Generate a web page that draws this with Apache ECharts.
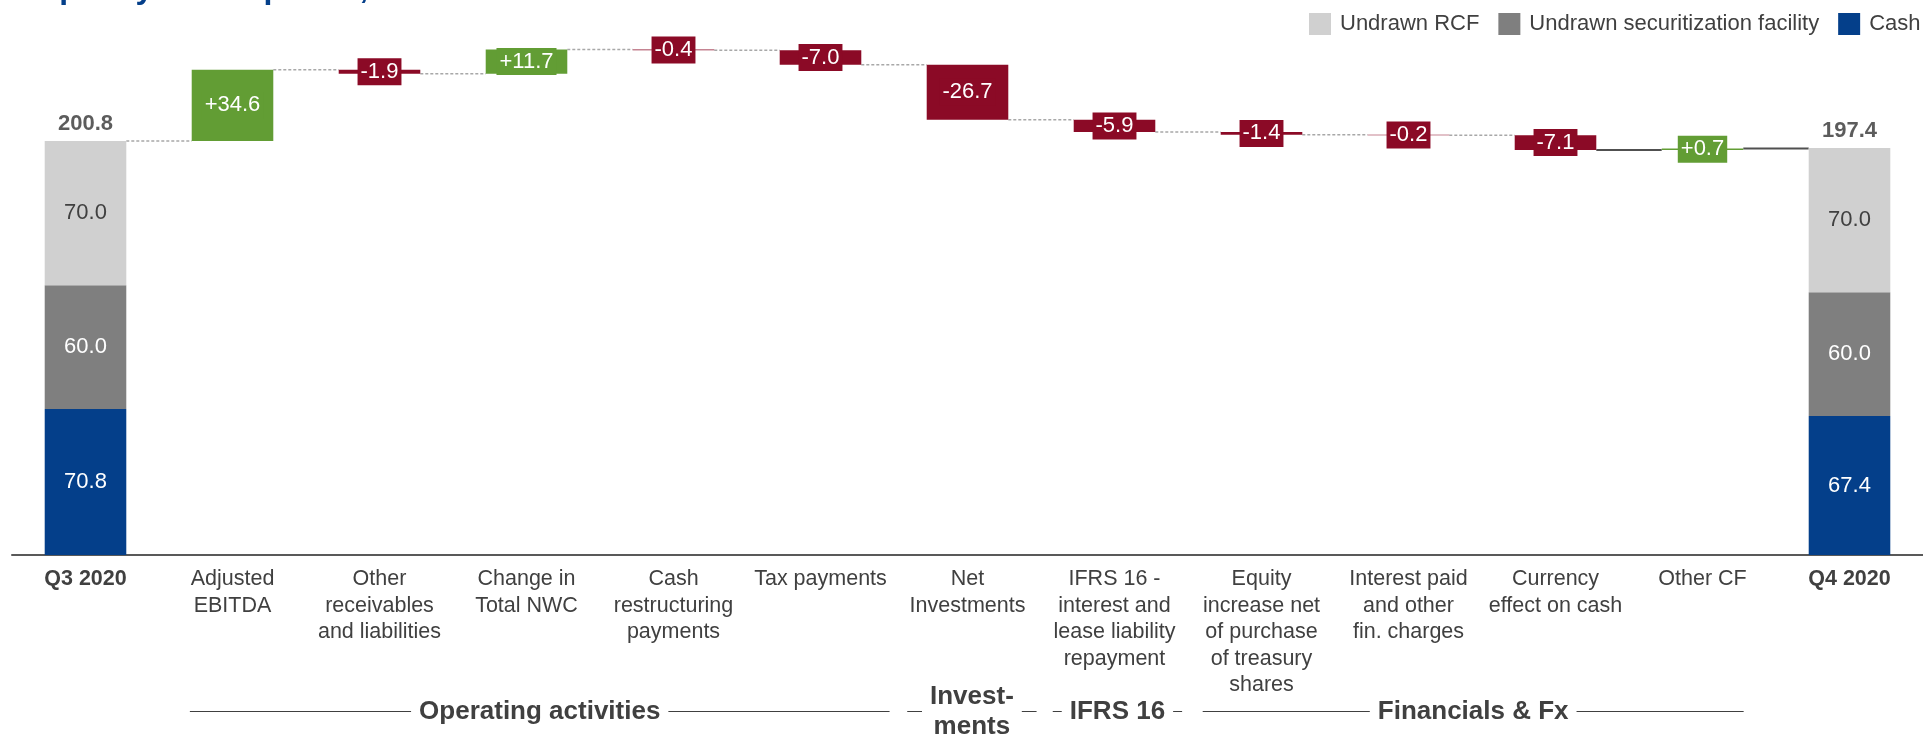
<!DOCTYPE html>
<html>
<head>
<meta charset="utf-8">
<script src="https://cdn.jsdelivr.net/npm/echarts@6/dist/echarts.min.js"></script>
<style>
  html, body { margin: 0; padding: 0; background: #ffffff; }
  #chart { width: 1923px; height: 738px; }
</style>
</head>
<body>
<div id="chart"></div>
<script>
// Liquidity bridge from Q3 2020 to Q4 2020 (EUR m)
const categories = [
  'Q3 2020',
  'Adjusted\nEBITDA',
  'Other\nreceivables\nand liabilities',
  'Change in\nTotal NWC',
  'Cash\nrestructuring\npayments',
  'Tax payments',
  'Net\nInvestments',
  'IFRS 16 -\ninterest and\nlease liability\nrepayment',
  'Equity\nincrease net\nof purchase\nof treasury\nshares',
  'Interest paid\nand other\nfin. charges',
  'Currency\neffect on cash',
  'Other CF',
  'Q4 2020'
];

// Positions of the two total columns and their components
const totalIndex = [0, 12];
const cash = [70.8, 67.4];
const undrawnSecuritization = [60.0, 60.0];
const undrawnRcf = [70.0, 70.0];

// Movements between the two totals (null where a total column sits)
const movements = [null, 34.6, -1.9, 11.7, -0.4, -7.0, -26.7, -5.9, -1.4, -0.2, -7.1, 0.7, null];

// Section captions under the axis, spans given in category units
const sections = [
  { name: 'Operating activities', from: 0.71, to: 5.47 },
  { name: 'Invest-\nments', from: 5.59, to: 6.47 },
  { name: 'IFRS 16', from: 6.58, to: 7.46 },
  { name: 'Financials & Fx', from: 7.60, to: 11.28 }
];

const FONT = 'Arial, "Liberation Sans", sans-serif';
const TEXT = '#404040';
const GREEN = '#629d34';
const RED = '#8b0a26';
const BAR_W = '55.5%';

const n = categories.length;
const totals = cash.map((c, k) => +(c + undrawnSecuritization[k] + undrawnRcf[k]).toFixed(1));

function fullRow(values) {
  const row = new Array(n).fill('-');
  totalIndex.forEach((idx, k) => { row[idx] = values[k]; });
  return row;
}

// Floating bases and heights for the movement bars
const baseData = new Array(n).fill('-');
const moveData = new Array(n).fill('-');
const levels = new Array(n).fill(null);
let level = totals[0];
for (let i = 0; i < n; i++) {
  const d = movements[i];
  if (totalIndex.includes(i)) {
    levels[i] = totals[totalIndex.indexOf(i)];
    if (i === 0) level = levels[i];
    continue;
  }
  const next = +(level + d).toFixed(1);
  baseData[i] = Math.min(level, next);
  const color = d >= 0 ? GREEN : RED;
  moveData[i] = {
    value: Math.abs(d),
    signed: d,
    itemStyle: { color: color },
    label: { backgroundColor: color }
  };
  level = next;
  levels[i] = level;
}

// Connector lines between neighbouring columns
const connectorData = [];
for (let i = 0; i < n - 1; i++) connectorData.push([i, levels[i]]);
const solidLinks = [10, 11];

const chart = echarts.init(document.getElementById('chart'), null, { renderer: 'canvas' });

const valueLabel = (color) => ({
  show: true, position: 'inside', color: color, fontSize: 22, fontFamily: FONT,
  formatter: p => Number(p.value).toFixed(1)
});

const option = {
  backgroundColor: '#ffffff',
  animation: false,
  textStyle: { fontFamily: FONT },
  legend: {
    left: 1309,
    top: 13,
    padding: 0,
    width: 700,
    itemWidth: 22,
    itemHeight: 22,
    itemGap: 19,
    icon: 'rect',
    data: ['Undrawn RCF', 'Undrawn securitization facility', 'Cash'],
    textStyle: { fontSize: 22, color: TEXT, fontFamily: FONT, padding: [0, 0, 0, 4] }
  },
  grid: { left: 12, width: 1919, top: 19, height: 536 },
  xAxis: {
    type: 'category',
    data: categories,
    axisTick: { show: false },
    axisLine: { lineStyle: { color: '#595959', width: 2 } },
    axisLabel: {
      interval: 0,
      margin: 11,
      fontSize: 21.5,
      lineHeight: 26.5,
      color: TEXT,
      fontFamily: FONT,
      formatter: (v, i) => totalIndex.includes(i) ? '{b|' + v + '}' : v,
      rich: { b: { fontWeight: 'bold', fontSize: 21.5, lineHeight: 26.5, color: TEXT, fontFamily: FONT } }
    }
  },
  yAxis: {
    type: 'value',
    min: 0,
    max: 260,
    show: false,
    splitLine: { show: false }
  },
  series: [
    {
      name: 'connectors',
      type: 'custom',
      z: 1,
      silent: true,
      data: connectorData,
      renderItem: (params, api) => {
        const i = api.value(0);
        const v = api.value(1);
        const band = api.size([1, 0])[0];
        const half = band * 0.555 / 2;
        const p0 = api.coord([i, v]);
        const p1 = api.coord([i + 1, v]);
        const solid = solidLinks.includes(i);
        return {
          type: 'line',
          shape: { x1: p0[0] + half, y1: p0[1], x2: p1[0] - half, y2: p1[1] },
          style: solid
            ? { stroke: '#505050', lineWidth: 2 }
            : { stroke: '#a8a8a8', lineWidth: 1.5, lineDash: [3, 2] }
        };
      }
    },
    {
      name: 'base',
      type: 'bar',
      stack: 'w',
      barWidth: BAR_W,
      silent: true,
      itemStyle: { color: 'rgba(0,0,0,0)' },
      data: baseData
    },
    {
      name: 'Cash',
      type: 'bar',
      stack: 'w',
      barWidth: BAR_W,
      itemStyle: { color: '#043f8a' },
      label: valueLabel('#ffffff'),
      data: fullRow(cash)
    },
    {
      name: 'Undrawn securitization facility',
      type: 'bar',
      stack: 'w',
      barWidth: BAR_W,
      itemStyle: { color: '#7f7f7f' },
      label: valueLabel('#ffffff'),
      data: fullRow(undrawnSecuritization)
    },
    {
      name: 'Undrawn RCF',
      type: 'bar',
      stack: 'w',
      barWidth: BAR_W,
      itemStyle: { color: '#d0d0d0' },
      label: valueLabel(TEXT),
      data: fullRow(undrawnRcf)
    },
    {
      name: 'movement',
      type: 'bar',
      stack: 'w',
      barWidth: BAR_W,
      z: 3,
      label: {
        show: true,
        position: 'inside',
        color: '#ffffff',
        fontSize: 22,
        lineHeight: 22,
        fontFamily: FONT,
        padding: [3, 3, 2, 3],
        formatter: p => {
          const d = p.data.signed;
          return (d > 0 ? '+' : '') + d.toFixed(1);
        }
      },
      data: moveData
    },
    {
      name: 'total',
      type: 'scatter',
      symbolSize: 0,
      silent: true,
      z: 4,
      label: {
        show: true,
        position: 'top',
        distance: 6,
        color: '#333333',
        fontWeight: 'bold',
        fontSize: 22,
        fontFamily: FONT,
        formatter: p => p.value[1].toFixed(1)
      },
      data: totalIndex.map((idx, k) => [idx, totals[k]])
    }
  ]
};

chart.setOption(option);

// Section captions with rules on either side
function sectionGraphics() {
  const x0 = chart.convertToPixel({ xAxisIndex: 0 }, 0);
  const x1 = chart.convertToPixel({ xAxisIndex: 0 }, 1);
  const step = x1 - x0;
  const y = 711.5;
  const ctx = document.createElement('canvas').getContext('2d');
  ctx.font = 'bold 26px ' + FONT;
  const els = [];
  sections.forEach(s => {
    const a = x0 + s.from * step;
    const b = x0 + s.to * step;
    const mid = (a + b) / 2;
    const w = Math.max.apply(null, s.name.split('\n').map(t => ctx.measureText(t).width));
    const gap = 8;
    els.push({ type: 'line', silent: true,
      shape: { x1: a, y1: y, x2: mid - w / 2 - gap, y2: y },
      style: { stroke: TEXT, lineWidth: 1 } });
    els.push({ type: 'line', silent: true,
      shape: { x1: mid + w / 2 + gap, y1: y, x2: b, y2: y },
      style: { stroke: TEXT, lineWidth: 1 } });
    els.push({ type: 'text', silent: true, x: mid, y: y,
      style: { text: s.name, fill: TEXT, font: 'bold 26px ' + FONT,
               textAlign: 'center', textVerticalAlign: 'middle', lineHeight: 30 } });
  });
  els.push({ type: 'text', silent: true, x: 20, y: -11,
    style: { text: 'Liquidity development, EUR m', fill: '#043f8a', font: 'bold 32px ' + FONT,
             textAlign: 'left', textVerticalAlign: 'middle' } });
  return els;
}

chart.setOption({ graphic: sectionGraphics() });
</script>
</body>
</html>
